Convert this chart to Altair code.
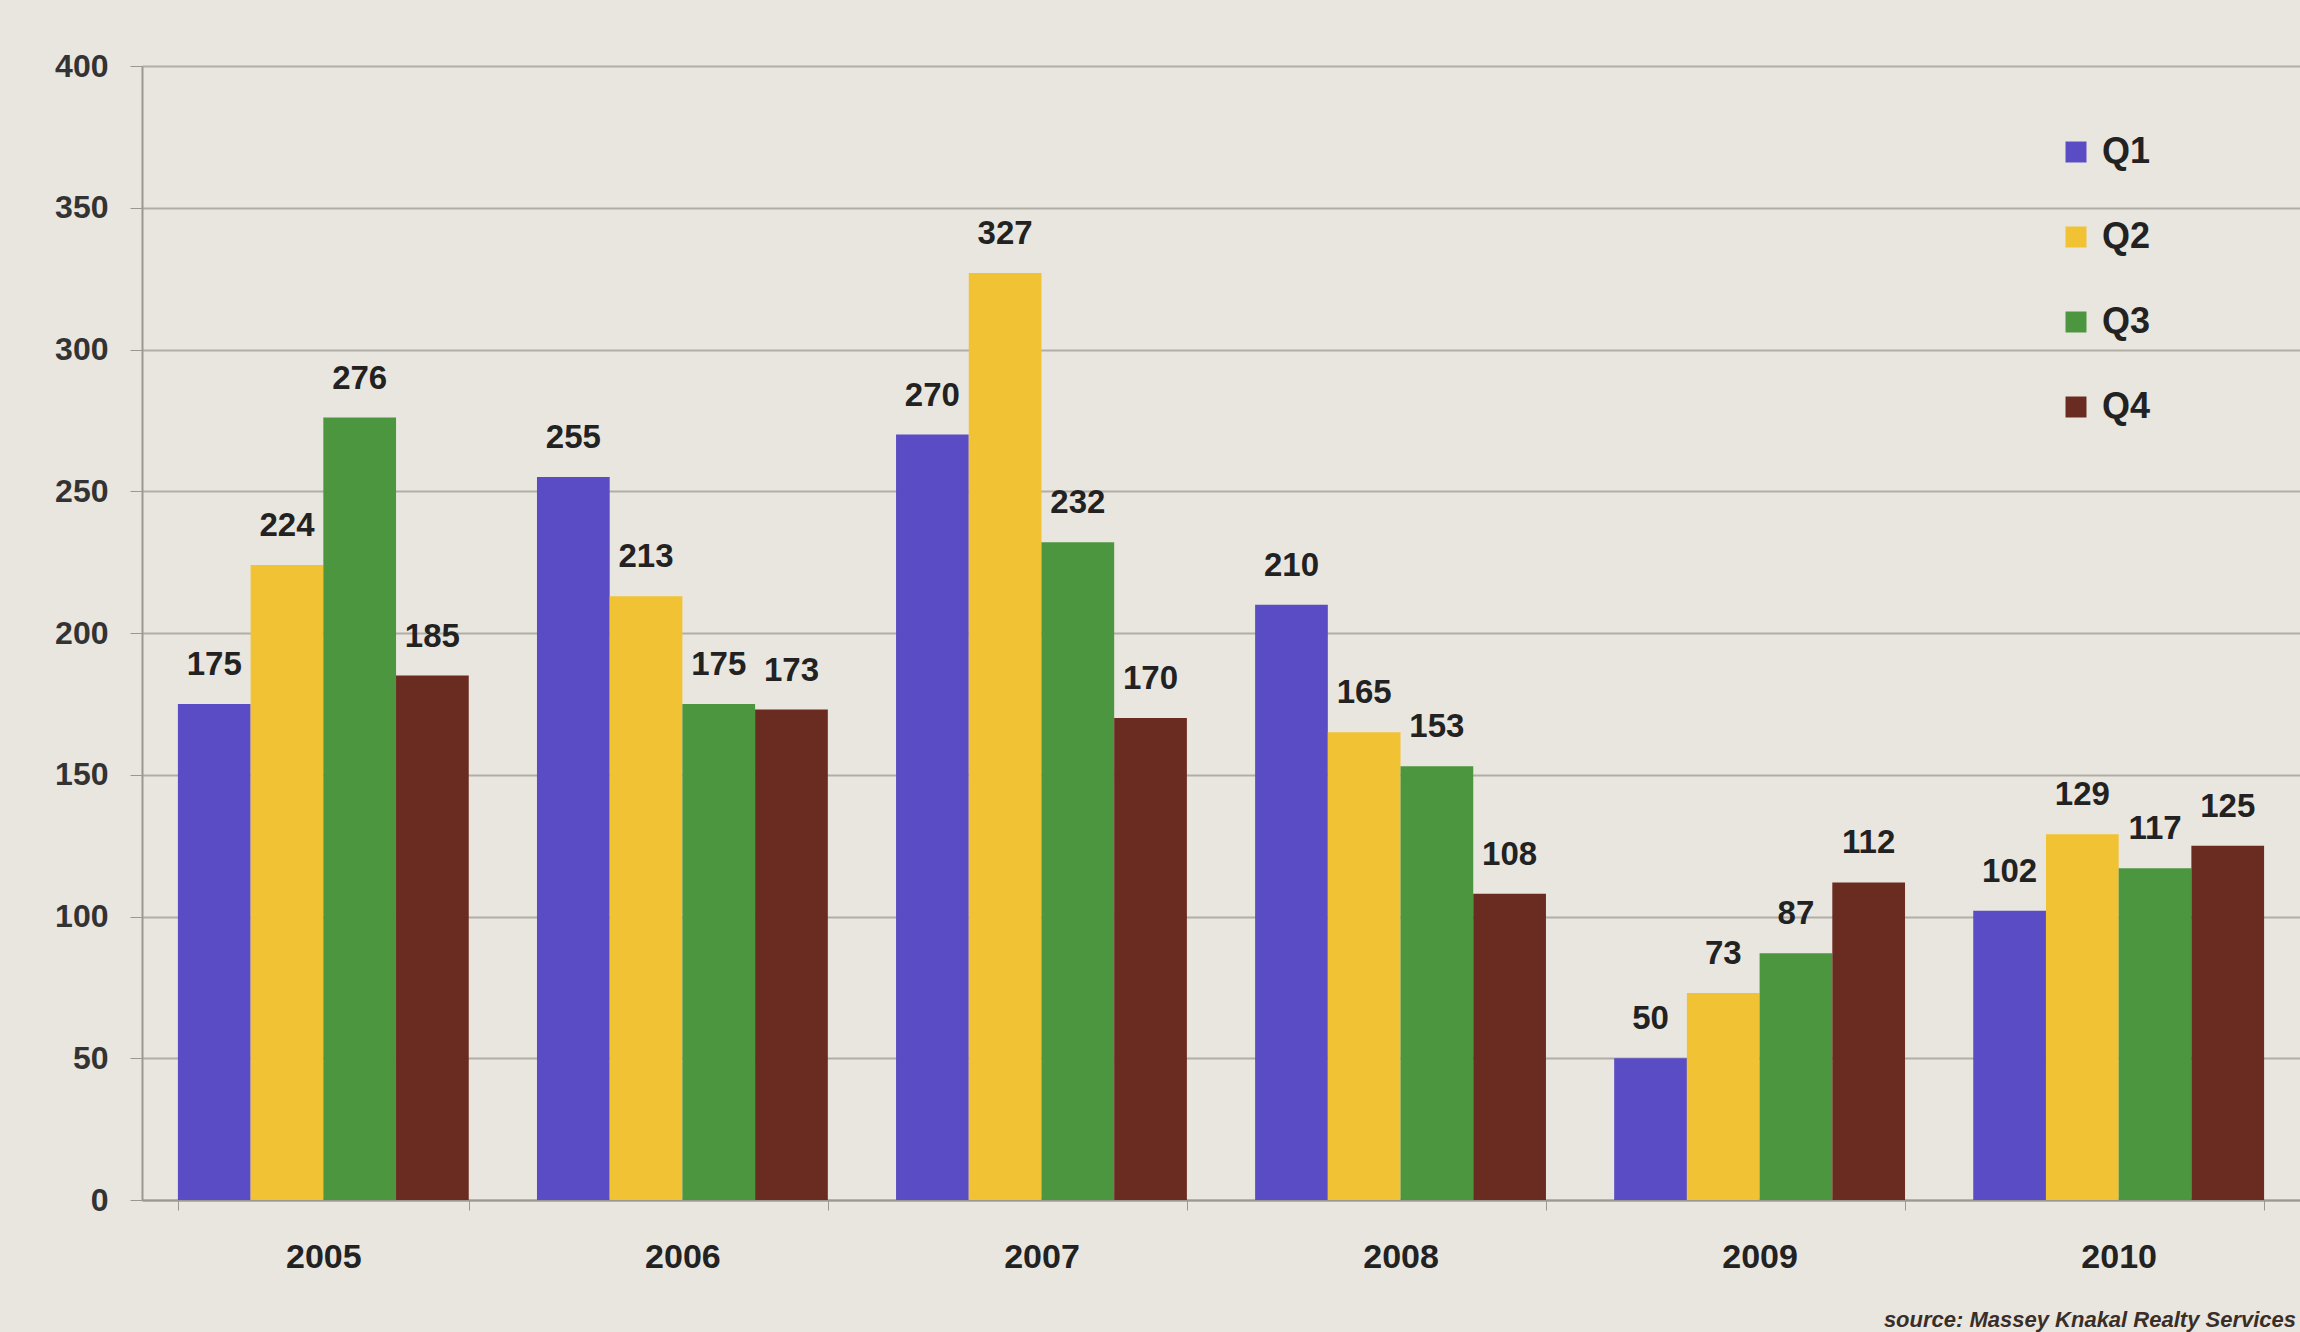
import altair as alt
import pandas as pd

years = ["2005", "2006", "2007", "2008", "2009", "2010"]
quarters = ["Q1", "Q2", "Q3", "Q4"]
q1 = [175, 255, 270, 210, 50, 102]
q2 = [224, 213, 327, 165, 73, 129]
q3 = [276, 175, 232, 153, 87, 117]
q4 = [185, 173, 170, 108, 112, 125]
colors = ["#5a4cc4", "#f0c234", "#4c963f", "#6a2b20"]
source_note = "source: Massey Knakal Realty Services"

rows = []
for q, vals in zip(quarters, [q1, q2, q3, q4]):
    for y, v in zip(years, vals):
        rows.append({"year": y, "quarter": q, "value": v})
df = pd.DataFrame(rows)

FONT = "Liberation Sans"
W, H = 2158, 1134

x = alt.X("year:N", sort=years,
          scale=alt.Scale(paddingInner=0.19, paddingOuter=0.1),
          axis=alt.Axis(title=None, labelAngle=0, labelFontSize=34, labelFontWeight="bold",
                        labelColor="#222222", labelPadding=30, tickSize=10, tickColor="#9a9890",
                        domainColor="#9a9890", domainWidth=2, tickBand="extent", labelFont=FONT))
y = alt.Y("value:Q", scale=alt.Scale(domain=[0, 400]),
          axis=alt.Axis(title=None, values=list(range(0, 401, 50)), labelFontSize=32,
                        labelFontWeight="bold", labelColor="#333333", labelPadding=22,
                        tickSize=12, tickColor="#9a9890", domainColor="#9a9890", domainWidth=2,
                        gridColor="#b0aea6", gridWidth=2, labelFont=FONT))

base = alt.Chart(df)

bars = base.mark_bar().encode(
    x=x, y=y,
    xOffset=alt.XOffset("quarter:N", sort=quarters),
    color=alt.Color("quarter:N", sort=quarters,
                    scale=alt.Scale(domain=quarters, range=colors),
                    legend=alt.Legend(title=None, orient="none", legendX=1916, legendY=68,
                                      symbolType="square", symbolSize=440, symbolStrokeWidth=0,
                                      labelFontSize=36, labelFontWeight="bold", labelColor="#222222",
                                      labelFont=FONT, rowPadding=49, labelOffset=8, padding=0)),
)

labels = base.mark_text(baseline="bottom", dy=-22, fontSize=33, fontWeight="bold",
                        color="#222222", font=FONT).encode(
    x=alt.X("year:N", sort=years), y=alt.Y("value:Q"),
    xOffset=alt.XOffset("quarter:N", sort=quarters),
    text=alt.Text("value:Q"),
)

note = alt.Chart(pd.DataFrame({"t": [source_note]})).mark_text(
    align="right", baseline="bottom", fontSize=22, fontWeight="bold", fontStyle="italic",
    color="#3a2e28", font=FONT).encode(
    x=alt.value(W - 4), y=alt.value(H + 132), text="t:N")

chart = alt.layer(bars, labels, note).properties(
    width=W, height=H,
    autosize=alt.AutoSizeParams(type="none"),
    padding={"left": 142, "top": 66, "right": 0, "bottom": 132},
    background="#e9e6df",
).configure_view(stroke=None)

chart.save("out.html", embed_options={"renderer": "svg", "actions": False})
